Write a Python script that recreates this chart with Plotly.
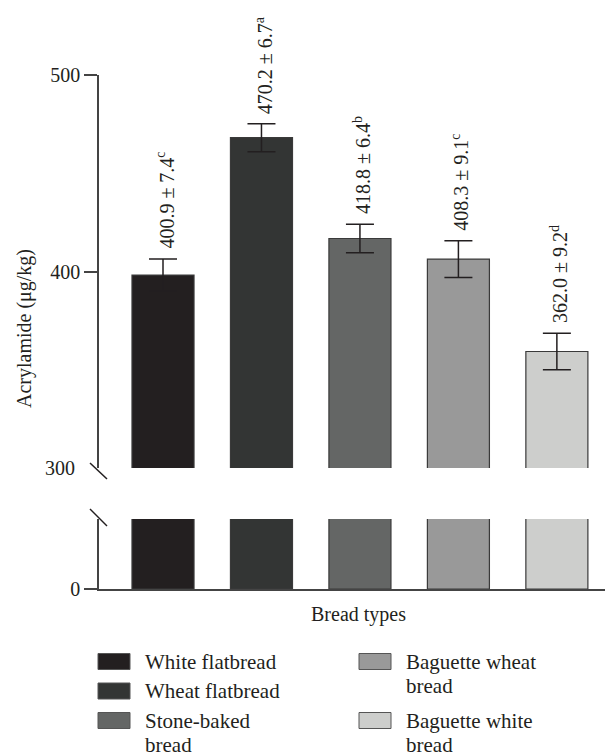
import plotly.graph_objects as go

# ---------------- data ----------------
categories = ["White flatbread", "Wheat flatbread", "Stone-baked bread",
              "Baguette wheat bread", "Baguette white bread"]
means = [398.2, 468.1, 416.8, 406.3, 359.3]          # bar heights
errors = [8.1, 7.1, 7.3, 9.3, 9.3]                   # error bar half-lengths
label_means = [400.9, 470.2, 418.8, 408.3, 362.0]    # printed labels
label_sd = [7.4, 6.7, 6.4, 9.1, 9.2]
label_letters = ["c", "a", "b", "c", "d"]
colors = ["#231f20", "#333534", "#646665", "#999999", "#cdcecc"]
legend_lines = [["White flatbread"], ["Wheat flatbread"], ["Stone-baked", "bread"],
                ["Baguette wheat", "bread"], ["Baguette white", "bread"]]
upper_ticks = [300, 400, 500]
lower_ticks = [0]

OFF = 8                      # page body margin offset
W, H = 613 - OFF, 752 - OFF
L, T = 99 - OFF, 75 - OFF
BOT = 589 - OFF
R, B = 0, H - BOT
PW, PH = W - L - R, H - T - B
FONT = "Liberation Serif"
TXT = "#231f20"


def px(xs):
    return (xs - OFF - L) / PW


def py(ys):
    return (BOT - (ys - OFF)) / PH


fig = go.Figure()

bar_line = dict(color="#3a3a3a", width=1.2)
# lower panel bars (clipped)
fig.add_trace(go.Bar(x=categories, y=means, marker=dict(color=colors, line=bar_line),
                     width=0.63, xaxis="x", yaxis="y", showlegend=False, hoverinfo="skip"))
# upper panel bars with error bars
fig.add_trace(go.Bar(x=categories, y=means, marker=dict(color=colors, line=bar_line),
                     width=0.63, xaxis="x", yaxis="y2", showlegend=False,
                     error_y=dict(type="data", array=errors, visible=True, color="#231f20",
                                  thickness=1.5, width=14)))

annotations = []
for c, m, e, lm, ls, lt in zip(categories, means, errors, label_means, label_sd, label_letters):
    annotations.append(dict(x=c, y=m + e, xref="x", yref="y2", text=f"{lm:.1f} ± {ls:.1f}<sup>{lt}</sup>",
                            textangle=-90, showarrow=False, xanchor="center", yanchor="bottom",
                            yshift=8, xshift=2, font=dict(family=FONT, size=20, color=TXT)))

# "300" tick label (no tick mark at the break)
annotations.append(dict(x=0, y=upper_ticks[0], xref="paper", yref="y2", text=str(upper_ticks[0]),
                        showarrow=False, xanchor="right", yanchor="middle", xshift=-22,
                        font=dict(family=FONT, size=20, color=TXT)))

# axis titles
annotations.append(dict(x=px(24), y=py(329), xref="paper", yref="paper", text="Acrylamide (μg/kg)",
                        textangle=-90, showarrow=False, xanchor="center", yanchor="middle",
                        font=dict(family=FONT, size=20, color=TXT)))
annotations.append(dict(x=px(358), y=py(614), xref="paper", yref="paper", text="Bread types",
                        showarrow=False, xanchor="center", yanchor="middle",
                        font=dict(family=FONT, size=20, color=TXT)))

shapes = []
# break marks
for (x0, y0, x1, y1) in [(90, 463, 107, 479), (90, 509, 107, 526)]:
    shapes.append(dict(type="line", xref="paper", yref="paper", x0=px(x0), y0=py(y0), x1=px(x1), y1=py(y1),
                       line=dict(color="#231f20", width=1.5)))

# manual legend
legend_pos = [(98, 661.5), (98, 691), (98, 720.5), (359, 661.5), (359, 720.5)]
for col, lines, (lx, ly) in zip(colors, legend_lines, legend_pos):
    shapes.append(dict(type="rect", xref="paper", yref="paper", x0=px(lx), x1=px(lx + 32),
                       y0=py(ly + 8), y1=py(ly - 8), fillcolor=col, line=dict(color="#555555", width=1)))
    for k, t in enumerate(lines):
        annotations.append(dict(x=px(lx + 45), y=py(ly + k * 24), xref="paper", yref="paper", text=t,
                                showarrow=False, xanchor="left", yanchor="middle",
                                font=dict(family=FONT, size=21, color=TXT)))

axis_common = dict(showline=True, linecolor="#444444", linewidth=1.5, showgrid=False, zeroline=False,
                   ticks="outside", ticklen=13, tickwidth=1.5, tickcolor="#444444",
                   tickfont=dict(family=FONT, size=20, color=TXT))

fig.update_layout(
    width=W, height=H, margin=dict(l=L, r=R, t=T, b=B, autoexpand=False),
    paper_bgcolor="white", plot_bgcolor="white",
    xaxis=dict(type="category", range=[-0.65, 4.57], showline=True, linecolor="#444444", linewidth=1.5,
               showticklabels=False, ticks="", showgrid=False, zeroline=False, anchor="y"),
    yaxis=dict(domain=[0, py(519)], range=[0, 100], tickvals=lower_ticks, anchor="x", **axis_common),
    yaxis2=dict(domain=[py(468), 1], range=[300, 500], tickvals=upper_ticks[1:], anchor="x", **axis_common),
    annotations=annotations, shapes=shapes,
    showlegend=False,
)

fig.write_html("out.html")
